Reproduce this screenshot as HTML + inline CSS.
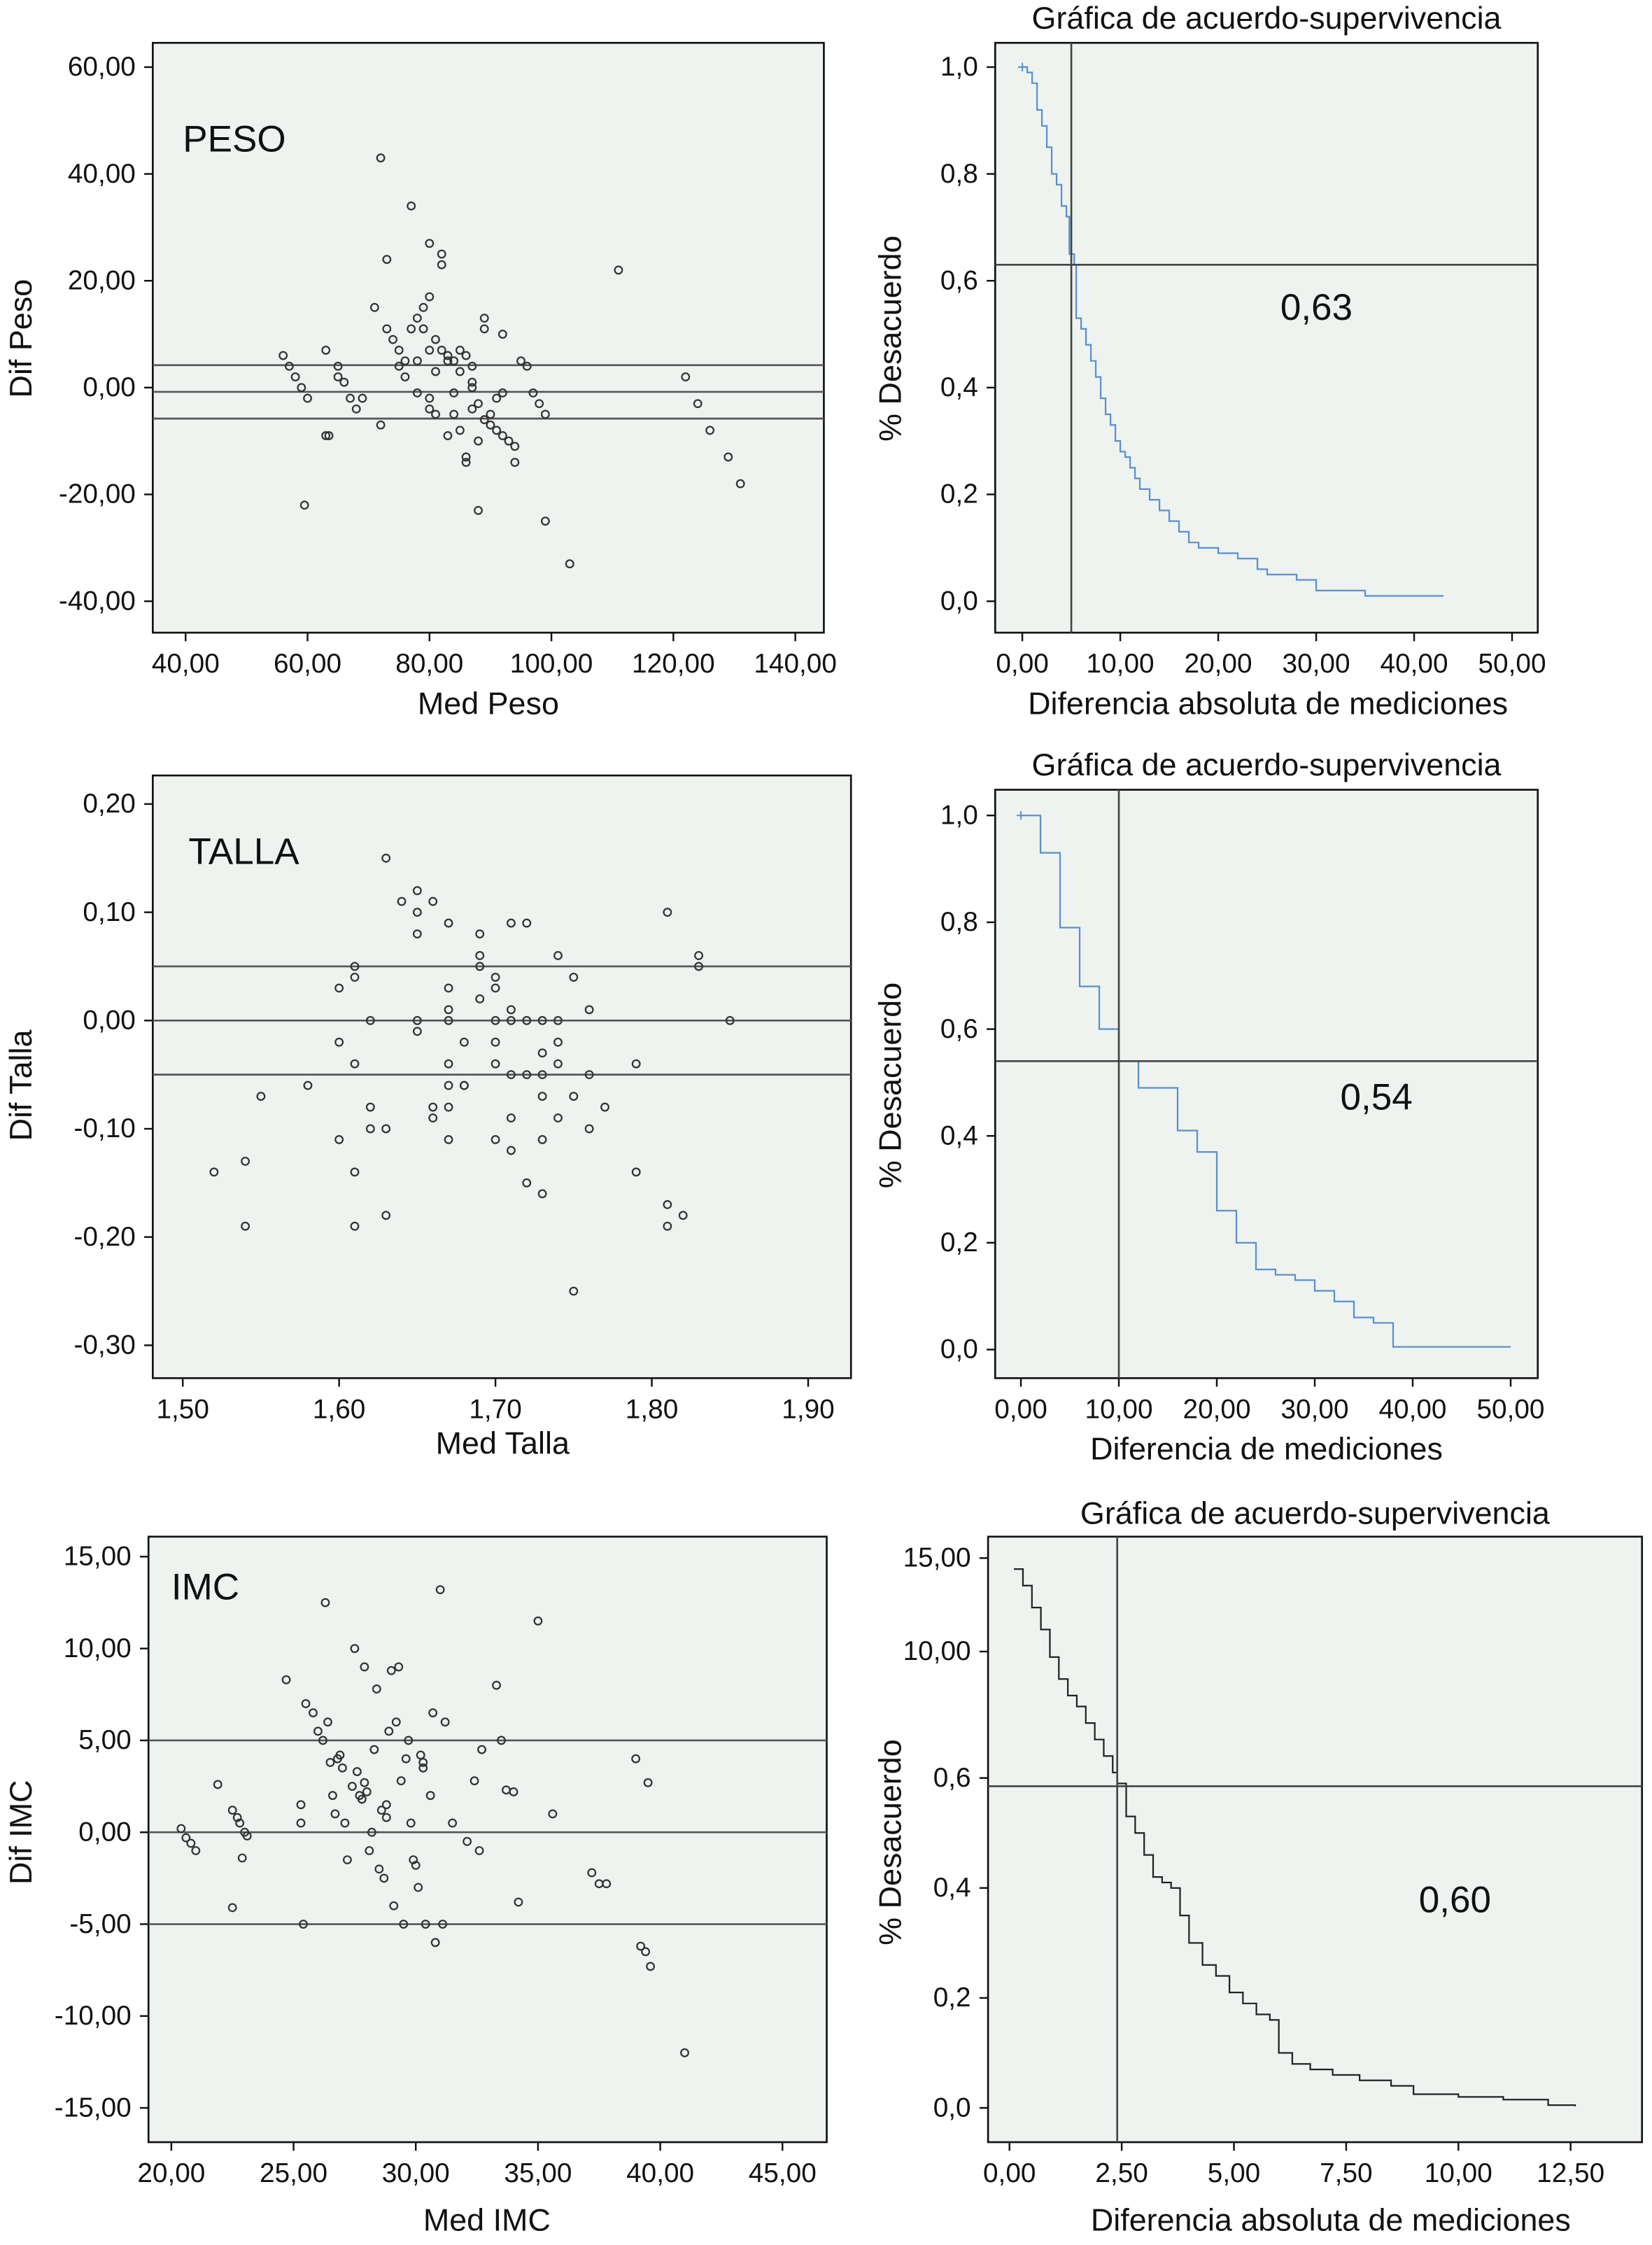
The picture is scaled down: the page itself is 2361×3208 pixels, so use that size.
<!DOCTYPE html>
<html><head><meta charset="utf-8">
<style>
html,body{margin:0;padding:0;background:#fff;}
svg{display:block;font-family:"Liberation Sans Narrow","Liberation Sans",sans-serif;}
</style></head>
<body>
<svg id="fig" width="2361" height="3208" viewBox="0 0 1157 1572" preserveAspectRatio="none" xmlns="http://www.w3.org/2000/svg"></svg>
<script>
// ---- Data ----
const pesoPoints = [[56,6],[57,4],[58,2],[59,0],[60,-2],[59.5,-22],[63,-9],[63.5,-9],[63,7],[65,4],[65,2],[66,1],[67,-2],[68,-4],[69,-2],[71,15],[72,43],[72,-7],[73,24],[73,11],[74,9],[75,7],[75,4],[76,2],[77,34],[77,11],[78,13],[78,5],[79,15],[79,11],[80,17],[80,27],[80,-2],[80,-4],[81,-5],[81,3],[81,9],[82,23],[82,25],[82,7],[83,6],[83,5],[83,-9],[84,-1],[84,5],[85,7],[85,3],[86,6],[86,-13],[86,-14],[87,1],[87,0],[87,4],[87,-4],[88,-10],[88,-3],[89,13],[89,11],[89,-6],[90,-7],[91,-8],[91,-2],[92,-1],[92,10],[93,-10],[94,-11],[94,-14],[95,5],[96,4],[88,-23],[97,-1],[98,-3],[99,-5],[99,-25],[103,-33],[111,22],[122,2],[124,-3],[126,-8],[129,-13],[131,-18],[84,-5],[85,-8],[90,-5],[92,-9],[78,-1],[76,5],[80,7]];
const pesoRefLines = [4.2,-0.8,-5.8];
const tallaPoints = [[1.52,-0.14],[1.54,-0.13],[1.54,-0.19],[1.55,-0.07],[1.58,-0.06],[1.60,-0.02],[1.60,0.03],[1.60,-0.11],[1.61,0.04],[1.61,-0.04],[1.61,0.05],[1.61,-0.19],[1.61,-0.14],[1.62,0.00],[1.62,-0.08],[1.62,-0.10],[1.63,-0.10],[1.63,-0.18],[1.63,0.15],[1.64,0.11],[1.65,0.12],[1.65,0.08],[1.65,0.10],[1.66,0.11],[1.65,0.00],[1.65,-0.01],[1.66,-0.08],[1.66,-0.09],[1.67,-0.04],[1.67,-0.08],[1.67,-0.11],[1.67,0.01],[1.67,0.03],[1.67,-0.06],[1.67,0.09],[1.68,-0.02],[1.68,-0.06],[1.69,0.08],[1.69,0.06],[1.69,0.05],[1.70,0.03],[1.70,0.04],[1.70,0.00],[1.70,-0.04],[1.69,0.02],[1.70,-0.02],[1.70,-0.11],[1.71,-0.09],[1.71,-0.12],[1.71,0.00],[1.71,0.01],[1.71,0.09],[1.71,-0.05],[1.72,0.00],[1.72,0.09],[1.72,-0.05],[1.72,-0.15],[1.73,-0.16],[1.73,0.00],[1.73,-0.07],[1.73,-0.03],[1.73,-0.05],[1.73,-0.11],[1.74,-0.02],[1.74,0.06],[1.74,-0.04],[1.74,0.00],[1.74,-0.09],[1.75,0.04],[1.75,-0.07],[1.75,-0.25],[1.76,-0.05],[1.76,-0.10],[1.76,0.01],[1.77,-0.08],[1.79,-0.04],[1.79,-0.14],[1.81,0.10],[1.81,-0.17],[1.81,-0.19],[1.82,-0.18],[1.83,0.06],[1.83,0.05],[1.85,0.00],[1.68,-0.06],[1.67,0.00]];
const tallaRefLines = [0.05,0,-0.05];
const imcPoints = [[20.4,0.2],[20.6,-0.3],[20.8,-0.6],[21.0,-1.0],[21.9,2.6],[22.5,-4.1],[22.5,1.2],[22.7,0.8],[22.8,0.5],[23.0,0.0],[23.1,-0.2],[22.9,-1.4],[24.7,8.3],[25.3,1.5],[25.3,0.5],[25.4,-5.0],[25.5,7.0],[25.8,6.5],[26.3,12.5],[26.0,5.5],[26.2,5.0],[26.4,6.0],[26.5,3.8],[26.6,2.0],[26.7,1.0],[26.9,4.2],[27.0,3.5],[27.1,0.5],[27.2,-1.5],[27.4,2.5],[27.5,10.0],[27.6,3.3],[27.8,1.8],[27.9,9.0],[28.0,2.2],[28.1,-1.0],[28.2,0.0],[28.3,4.5],[28.4,7.8],[28.5,-2.0],[28.6,1.2],[28.7,-2.5],[28.8,0.8],[28.9,5.5],[29.0,8.8],[29.1,-4.0],[29.2,6.0],[29.3,9.0],[29.4,2.8],[29.5,-5.0],[29.6,4.0],[29.7,5.0],[29.8,0.5],[30.0,-1.8],[30.1,-3.0],[30.2,4.2],[30.3,3.5],[30.4,-5.0],[30.6,2.0],[30.7,6.5],[30.8,-6.0],[31.0,13.2],[31.1,-5.0],[31.2,6.0],[31.5,0.5],[32.1,-0.5],[32.4,2.8],[32.6,-1.0],[32.7,4.5],[33.3,8.0],[33.5,5.0],[33.7,2.3],[34.0,2.2],[34.2,-3.8],[35.0,11.5],[35.6,1.0],[37.2,-2.2],[37.5,-2.8],[37.8,-2.8],[39.0,4.0],[39.2,-6.2],[39.4,-6.5],[39.6,-7.3],[39.5,2.7],[41.0,-12.0],[27.7,2.0],[26.8,4.0],[28.8,1.5],[30.3,3.8],[27.9,2.7],[29.9,-1.5]];
const imcRefLines = [5,0,-5];

const km1X = [0,0.5,1,1.5,2,2.5,3,3.5,4,4.5,4.8,5.3,5.5,6,6.5,7,7.5,8,8.5,9,9.5,10,10.5,11,11.5,12,13,14,15,16,17,18,20,22,23,24,25,28,30,33,35];
const km1S = [1.0,0.99,0.97,0.92,0.89,0.85,0.80,0.78,0.74,0.72,0.65,0.63,0.53,0.51,0.48,0.45,0.42,0.38,0.35,0.33,0.30,0.28,0.27,0.25,0.23,0.21,0.19,0.17,0.15,0.13,0.11,0.10,0.09,0.08,0.08,0.06,0.05,0.04,0.02,0.02,0.01];
const km1End = 43;
const km2X = [0,2,4,6,8,10,12,16,18,20,22,24,26,28,30,32,34,36,38];
const km2S = [1,0.93,0.79,0.68,0.6,0.54,0.49,0.41,0.37,0.26,0.2,0.15,0.14,0.13,0.11,0.09,0.06,0.05,0.005];
const km2End = 50;
const km3X = [0.1,0.3,0.5,0.7,0.9,1.1,1.3,1.5,1.7,1.9,2.1,2.3,2.4,2.6,2.8,3.0,3.2,3.4,3.6,3.8,4.0,4.3,4.6,4.9,5.2,5.5,5.8,6.0,6.3,6.7,7.2,7.8,8.5,9.0,10.0,11.0,12.0,12.6];
const km3S = [0.98,0.95,0.91,0.87,0.82,0.78,0.75,0.73,0.70,0.67,0.64,0.61,0.59,0.53,0.50,0.46,0.42,0.41,0.40,0.35,0.30,0.26,0.24,0.21,0.19,0.17,0.16,0.10,0.08,0.07,0.06,0.05,0.04,0.025,0.02,0.015,0.005,0.003];
const km3End = 12.6;

const pesoXTicks=[40,60,80,100,120,140], pesoYTicks=[60,40,20,0,-20,-40];
const kmXTicks=[0,10,20,30,40,50], kmYTicks=[0,0.2,0.4,0.6,0.8,1.0];
const tallaXTicks=[1.5,1.6,1.7,1.8,1.9], tallaYTicks=[0.2,0.1,0,-0.1,-0.2,-0.3];
const imcXTicks=[20,25,30,35,40,45], imcYTicks=[15,10,5,0,-5,-10,-15];
const km3XTicks=[0,2.5,5,7.5,10,12.5];
const km3YTickVals=[0,0.2,0.4,0.6,0.83,1.0];
const km3YTickLabels=["0,0","0,2","0,4","0,6","10,00","15,00"];

// ---- Drawing ----
const NS="http://www.w3.org/2000/svg";
const svg=document.getElementById('fig');
function mk(tag,attrs,parent){const e=document.createElementNS(NS,tag);for(const k in attrs)e.setAttribute(k,attrs[k]);(parent||svg).appendChild(e);return e;}
function txt(s,x,y,size,anchor,parent,rot){const t=mk('text',{x:x,y:y,'font-size':size,'text-anchor':anchor||'middle',fill:'#111'},parent);if(rot)t.setAttribute('transform','rotate(-90 '+x+' '+y+')');t.textContent=s;return t;}
function fmt(v,d){return v.toFixed(d).replace('.',',');}

function panel(name,box,xd,xr,yd,yr){
  const g=mk('g',{});
  
  
  const sx=v=>xr[0]+(v-xd[0])/(xd[1]-xd[0])*(xr[1]-xr[0]);
  const sy=v=>yr[0]+(v-yd[0])/(yd[1]-yd[0])*(yr[1]-yr[0]);
  const r=mk('rect',{x:box[0],y:box[1],width:box[2]-box[0],height:box[3]-box[1],fill:'#eef3f0',stroke:'#111','stroke-width':1.3},g);
  
  
  return {g,sx,sy,box};
}
function axes(p,xt,xd,yt,yd,ylabels){
  const b=p.box;
  xt.forEach(v=>{const x=p.sx(v);mk('line',{x1:x,y1:b[3],x2:x,y2:b[3]+6,stroke:'#111','stroke-width':1.2},p.g);
    const t=txt(fmt(v,xd),x,b[3]+28,19,'middle',p.g);});
  yt.forEach((v,i)=>{const y=p.sy(v);mk('line',{x1:b[0]-6,y1:y,x2:b[0],y2:y,stroke:'#111','stroke-width':1.2},p.g);
    const t=txt(ylabels?ylabels[i]:fmt(v,yd),b[0]-12,y+6,19,'end',p.g);});
}
function scatter(p,pts,refs){
  refs.forEach(v=>{const l=mk('line',{x1:p.box[0],x2:p.box[2],y1:p.sy(v),y2:p.sy(v),stroke:'#555','stroke-width':1.3},p.g);
    });
  pts.forEach(d=>{const c=mk('circle',{cx:p.sx(d[0]),cy:p.sy(d[1]),r:2.6,fill:'none',stroke:'#333','stroke-width':1.1},p.g);
    });
}
function km(p,xs,ss,end,color,cross,vx,hy,label,lx,ly){
  let d='M'+p.sx(xs[0])+' '+p.sy(ss[0]);
  for(let i=1;i<xs.length;i++){d+=' H'+p.sx(xs[i])+' V'+p.sy(ss[i]);}
  d+=' H'+p.sx(end);
  const path=mk('path',{d:d,fill:'none',stroke:color,'stroke-width':1.1},p.g);
  
  if(cross){const x=p.sx(xs[0]),y=p.sy(ss[0]);mk('path',{d:`M${x-3} ${y}H${x+3}M${x} ${y-3}V${y+3}`,stroke:color,'stroke-width':1},p.g);}
  const v=mk('line',{x1:p.sx(vx),x2:p.sx(vx),y1:p.box[1],y2:p.box[3],stroke:'#444','stroke-width':1.3},p.g);
  
  const h=mk('line',{x1:p.box[0],x2:p.box[2],y1:p.sy(hy),y2:p.sy(hy),stroke:'#444','stroke-width':1.3},p.g);
  
  const t=txt(label,lx,ly,26,'middle',p.g);
}
function lab(s,x,y,size,anchor,rot,name){const t=txt(s,x,y,size,anchor,svg,rot);}

// Panel 1 PESO
let p1=panel('peso-scatter',[107,30,577,443],[40,140],[130,557],[60,-40],[47,421]);
scatter(p1,pesoPoints,pesoRefLines);axes(p1,pesoXTicks,2,pesoYTicks,2);
lab('PESO',128,106,26,'start',false,'panel-label');
lab('Med Peso',342,500,22,'middle',false,'x-axis-title');
lab('Dif Peso',22,237,22,'middle',true,'y-axis-title');
// Panel 2
let p2=panel('peso-survival',[697,30,1077,443],[0,50],[716,1059],[0,1],[421,47]);
km(p2,km1X,km1S,km1End,'#5a8fd0',true,5,0.63,'0,63',922,224);axes(p2,kmXTicks,2,kmYTicks,1);
lab('Gráfica de acuerdo-supervivencia',887,20,22,'middle',false,'chart-title');
lab('Diferencia absoluta de mediciones',888,500,22,'middle',false,'x-axis-title');
lab('% Desacuerdo',631,237,22,'middle',true,'y-axis-title');
// Panel 3 TALLA
let p3=panel('talla-scatter',[107,543,596,965],[1.5,1.9],[128,566],[0.2,-0.3],[563,942]);
scatter(p3,tallaPoints,tallaRefLines);axes(p3,tallaXTicks,2,tallaYTicks,2);
lab('TALLA',132,605,26,'start',false,'panel-label');
lab('Med Talla',352,1018,22,'middle',false,'x-axis-title');
lab('Dif Talla',22,760,22,'middle',true,'y-axis-title');
// Panel 4
let p4=panel('talla-survival',[697,553,1077,965],[0,50],[715,1058],[0,1],[945,571]);
km(p4,km2X,km2S,km2End,'#5a8fd0',true,10,0.54,'0,54',964,777);axes(p4,kmXTicks,2,kmYTicks,1);
lab('Gráfica de acuerdo-supervivencia',887,543,22,'middle',false,'chart-title');
lab('Diferencia de mediciones',887,1022,22,'middle',false,'x-axis-title');
lab('% Desacuerdo',631,760,22,'middle',true,'y-axis-title');
// Panel 5 IMC
let p5=panel('imc-scatter',[104,1076,579,1500],[20,45],[120,548],[15,-15],[1090,1476]);
scatter(p5,imcPoints,imcRefLines);axes(p5,imcXTicks,2,imcYTicks,2);
lab('IMC',120,1120,26,'start',false,'panel-label');
lab('Med IMC',341,1562,22,'middle',false,'x-axis-title');
lab('Dif IMC',22,1283,22,'middle',true,'y-axis-title');
// Panel 6
let p6=panel('imc-survival',[692,1076,1150,1500],[0,12.5],[707,1100],[0,1],[1476,1091]);
km(p6,km3X,km3S,km3End,'#222',false,2.4,0.585,'0,60',1019,1339);axes(p6,km3XTicks,2,km3YTickVals,1,km3YTickLabels);
lab('Gráfica de acuerdo-supervivencia',921,1067,22,'middle',false,'chart-title');
lab('Diferencia absoluta de mediciones',932,1562,22,'middle',false,'x-axis-title');
lab('% Desacuerdo',631,1290,22,'middle',true,'y-axis-title');
</script>
</body></html>
